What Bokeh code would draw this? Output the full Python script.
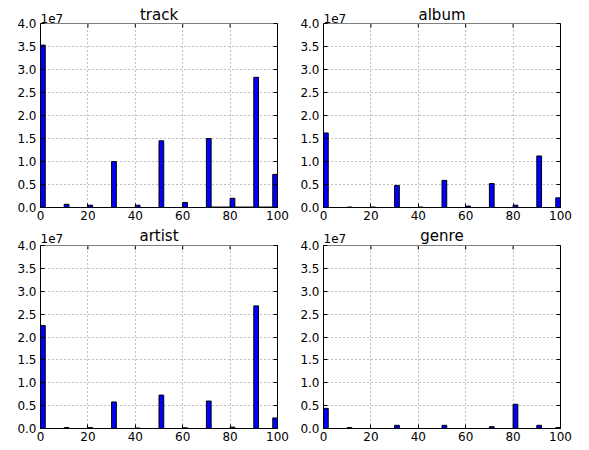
from bokeh.plotting import figure
from bokeh.layouts import column, row
from bokeh.models import (Label, FixedTicker, CustomJSTickFormatter, ColumnDataSource,
                          Range1d, LinearAxis)
from bokeh.embed import file_html
from bokeh.resources import INLINE

# 50 bins of width 2 covering 0..100 (left edges)
bin_left = [0, 2, 4, 6, 8, 10, 12, 14, 16, 18, 20, 22, 24, 26, 28, 30, 32, 34, 36, 38,
            40, 42, 44, 46, 48, 50, 52, 54, 56, 58, 60, 62, 64, 66, 68, 70, 72, 74, 76, 78,
            80, 82, 84, 86, 88, 90, 92, 94, 96, 98]
bin_width = 2

track = [35300000, 0, 0, 0, 0, 700000, 0, 0, 0, 0,
         500000, 0, 0, 0, 0, 10000000, 0, 0, 0, 0,
         500000, 0, 0, 0, 0, 14500000, 0, 0, 0, 0,
         1100000, 0, 0, 0, 0, 15000000, 100000, 100000, 100000, 100000,
         2000000, 100000, 100000, 100000, 100000, 28300000, 100000, 100000, 100000, 7200000]
album = [16200000, 0, 0, 0, 0, 100000, 0, 0, 0, 0,
         100000, 0, 0, 0, 0, 4800000, 0, 0, 0, 0,
         100000, 0, 0, 0, 0, 5900000, 0, 0, 0, 0,
         300000, 0, 0, 0, 0, 5200000, 0, 0, 0, 0,
         500000, 0, 0, 0, 0, 11200000, 0, 0, 0, 2100000]
artist = [22500000, 0, 0, 0, 0, 200000, 0, 0, 0, 0,
          200000, 0, 0, 0, 0, 5800000, 0, 0, 0, 0,
          100000, 0, 0, 0, 0, 7300000, 0, 0, 0, 0,
          150000, 0, 0, 0, 0, 6000000, 0, 0, 0, 0,
          300000, 0, 0, 0, 0, 26800000, 0, 0, 0, 2300000]
genre = [4400000, 0, 0, 0, 0, 200000, 0, 0, 0, 0,
         0, 0, 0, 0, 0, 700000, 0, 0, 0, 0,
         0, 0, 0, 0, 0, 700000, 0, 0, 0, 0,
         0, 0, 0, 0, 0, 400000, 0, 0, 0, 0,
         5300000, 0, 0, 0, 0, 700000, 0, 0, 0, 200000]

titles = ["track", "album", "artist", "genre"]
series = [track, album, artist, genre]
x_ticks = [0, 20, 40, 60, 80, 100]
y_ticks = [0, 5000000, 10000000, 15000000, 20000000, 25000000, 30000000, 35000000, 40000000]
X_MAX = 100
Y_MAX = 40000000

FONT = "DejaVu Sans"


def make_panel(title, counts, bl, br, bb, frame_h, axes_h, title_gap, mult_gap):
    # the frame is taller than the axes box so that the title and the
    # "1e7" multiplier can sit above the box, inside the drawable frame
    y_top = Y_MAX * frame_h / axes_h
    px = Y_MAX / axes_h  # data units per vertical pixel
    p = figure(frame_width=237, frame_height=frame_h, output_backend="svg",
               toolbar_location=None,
               x_range=Range1d(0, X_MAX), y_range=Range1d(0, y_top),
               min_border_left=bl, min_border_right=br, min_border_top=0,
               min_border_bottom=bb)

    p.xgrid.ticker = FixedTicker(ticks=x_ticks)
    p.ygrid.ticker = FixedTicker(ticks=y_ticks)
    p.grid.grid_line_color = "#808080"
    p.grid.grid_line_dash = "1 3"
    p.grid.grid_line_width = 1
    try:
        p.xgrid.cross_bounds = (0, Y_MAX)
    except Exception:
        pass
    # white strip hiding the grid above the axes box
    p.quad(left=[0], right=[X_MAX], bottom=[Y_MAX], top=[y_top],
           fill_color="white", line_color=None, level="guide")

    src = ColumnDataSource(dict(
        left=bin_left,
        right=[b + bin_width for b in bin_left],
        top=counts,
        bottom=[0] * len(counts),
    ))
    p.quad(left="left", right="right", top="top", bottom="bottom", source=src,
           fill_color="#0000ff", line_color="black", line_width=1)

    # top spine of the axes box and its inward ticks
    p.line(x=[0, X_MAX], y=[Y_MAX, Y_MAX], line_color="black", line_width=1)
    p.segment(x0=x_ticks, y0=[Y_MAX] * len(x_ticks), x1=x_ticks,
              y1=[Y_MAX - 4 * px] * len(x_ticks), line_color="black", line_width=1)

    p.xaxis.ticker = FixedTicker(ticks=x_ticks)
    p.yaxis.ticker = FixedTicker(ticks=y_ticks)
    p.yaxis.formatter = CustomJSTickFormatter(code="return (tick/1e7).toFixed(1);")
    p.yaxis.bounds = (0, Y_MAX)
    right_axis = LinearAxis(ticker=FixedTicker(ticks=y_ticks), bounds=(0, Y_MAX),
                            formatter=CustomJSTickFormatter(code="return '';"))
    p.add_layout(right_axis, "right")
    for ax in p.xaxis + p.yaxis:
        ax.major_tick_in = 4
        ax.major_tick_out = 0
        ax.minor_tick_in = 0
        ax.minor_tick_out = 0
        ax.major_tick_line_color = "black"
        ax.axis_line_color = "black"
        ax.axis_line_width = 1
        ax.major_label_text_font = FONT
        ax.major_label_text_font_size = "12px"
        ax.major_label_text_color = "black"
        ax.major_label_standoff = 4
    p.xaxis.major_label_standoff = 3
    right_axis.major_label_standoff = 0

    p.outline_line_color = None
    p.background_fill_color = "white"
    p.border_fill_color = "white"

    p.add_layout(Label(x=X_MAX / 2, y=Y_MAX + title_gap * px, text=title, text_font=FONT,
                       text_font_size="15px", text_color="black",
                       text_align="center", text_baseline="alphabetic"))
    p.add_layout(Label(x=0, y=Y_MAX + mult_gap * px, text="1e7", text_font=FONT,
                       text_font_size="12px", text_color="black",
                       text_align="left", text_baseline="alphabetic"))
    return p


p1 = make_panel(titles[0], series[0], 40, 17, 17, 207, 184, 9, 5)
p2 = make_panel(titles[1], series[1], 29, 28, 17, 207, 184, 9, 5)
p3 = make_panel(titles[2], series[2], 40, 17, 20, 204, 183, 10, 7)
p4 = make_panel(titles[3], series[3], 29, 28, 20, 204, 183, 10, 7)

layout = column(row(p1, p2), row(p3, p4))
open("out.html", "w").write(file_html(layout, INLINE))
